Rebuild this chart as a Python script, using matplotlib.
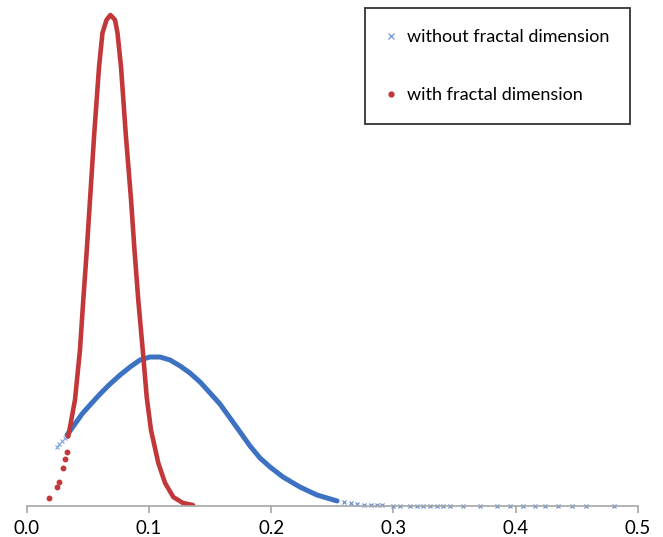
import numpy as np
import matplotlib
matplotlib.use('Agg')
import matplotlib.pyplot as plt

plt.rcParams['font.family'] = ['Lato', 'DejaVu Sans']

# blue series, "without fractal dimension"
blue_x = [0.0330, 0.0395, 0.0453, 0.0518, 0.0600, 0.0682, 0.0764,
          0.0845, 0.0927, 0.1009, 0.1091, 0.1173, 0.1255, 0.1336, 0.1418, 0.1500,
          0.1582, 0.1664, 0.1746, 0.1827, 0.1909, 0.1991, 0.2097, 0.2236, 0.2376,
          0.2540]
blue_y = [3.82, 4.41, 4.95, 5.43, 6.02, 6.56, 7.04,
          7.47, 7.85, 8.01, 8.01, 7.85, 7.53, 7.15, 6.67, 6.08,
          5.48, 4.73, 3.98, 3.23, 2.58, 2.10, 1.56, 1.02, 0.59,
          0.27]
# loose x markers at both ends of the blue series
blue_start_x = [0.0245, 0.0268, 0.0289, 0.0310]
blue_start_y = [3.17, 3.33, 3.49, 3.66]
blue_tail_x = [0.2600, 0.2650, 0.2703, 0.2760, 0.2820, 0.2867, 0.2910,
               0.300, 0.3055, 0.3137, 0.3190, 0.3246, 0.3300, 0.3355, 0.3410, 0.3464,
               0.357, 0.371, 0.3846, 0.3955, 0.4064, 0.416, 0.424, 0.435, 0.446,
               0.458, 0.481]
blue_tail_y = [0.20, 0.15, 0.11, 0.08, 0.05, 0.04, 0.03,
               0.02, 0.02, 0.02, 0.02, 0.02, 0.02, 0.02, 0.02, 0.02,
               0.02, 0.02, 0.02, 0.02, 0.02, 0.02, 0.02, 0.02, 0.02,
               0.02, 0.02]

# red series, "with fractal dimension"
red_tail_x = [0.0182, 0.0250, 0.0262, 0.0300, 0.0313, 0.0327]
red_tail_y = [0.43, 1.04, 1.31, 2.04, 2.53, 2.92]
red_x = [0.0340, 0.0395, 0.0436, 0.0463, 0.0489, 0.0518, 0.0553, 0.0592, 0.0620,
         0.0653, 0.0685, 0.0723, 0.0743, 0.0772, 0.0810, 0.0854, 0.0882, 0.0913,
         0.0954, 0.0982, 0.1017, 0.1077, 0.1132, 0.1200, 0.1279, 0.1361]
red_y = [3.73, 5.70, 8.39, 11.08, 13.49, 16.45, 20.05, 23.60, 25.43,
         26.13, 26.40, 26.13, 25.43, 23.60, 20.05, 16.45, 13.76, 11.08,
         8.06, 5.86, 4.09, 2.31, 1.24, 0.48, 0.16, 0.05]

blue = '#3D72C2'
red = '#C2383A'
axis_grey = '#A6A6A6'

fig = plt.figure(figsize=(6.63, 5.37), dpi=100)
ax = fig.add_axes([26.7 / 663, 1 - 506 / 537, (637.7 - 26.7) / 663, (506 - 4) / 537])

# blue drawn first, red on top
ax.plot(blue_x, blue_y, color=blue, lw=3.6, solid_capstyle='round')
ax.plot(blue_start_x, blue_start_y, ls='none', marker='x', ms=3, mew=0.8, color='#7FA3DA')
ax.plot(blue_tail_x, blue_tail_y, ls='none', marker='x', ms=3, mew=0.8, color='#5C87CC',
        clip_on=False)
ax.plot(red_x, red_y, color=red, lw=3.3, solid_capstyle='round', solid_joinstyle='round')
ax.plot(red_tail_x, red_tail_y, ls='none', marker='o', ms=3.2, color=red)

ax.set_xlim(0, 0.5)
ax.set_ylim(0, (506 - 4) / 18.6)

for side in ['left', 'right', 'top']:
    ax.spines[side].set_visible(False)
ax.spines['bottom'].set_color(axis_grey)
ax.spines['bottom'].set_linewidth(1.2)
ax.set_yticks([])
ax.set_xticks([0, 0.1, 0.2, 0.3, 0.4, 0.5])
ax.set_xticklabels(['0.0', '0.1', '0.2', '0.3', '0.4', '0.5'])
ax.tick_params(axis='x', direction='out', length=5, width=1.2, color=axis_grey,
               labelsize=13.5, pad=5, labelcolor='black')

# legend handles
h1, = ax.plot([], [], ls='none', marker='x', ms=4, mew=0.9, color='#6E98D6')
h2, = ax.plot([], [], ls='none', marker='o', ms=3.5, color=red)
leg = fig.legend([h1, h2], ['without fractal dimension', 'with fractal dimension'],
                 loc='upper left', bbox_to_anchor=(365 / 663, 1 - 8.3 / 537),
                 bbox_transform=fig.transFigure, fontsize=13, frameon=True,
                 fancybox=False, borderpad=1.15, labelspacing=2.35,
                 handlelength=0.6, handletextpad=0.55, borderaxespad=0)
leg.get_frame().set_edgecolor('black')
leg.get_frame().set_linewidth(1.3)

fig.savefig('out.png', dpi=100)
